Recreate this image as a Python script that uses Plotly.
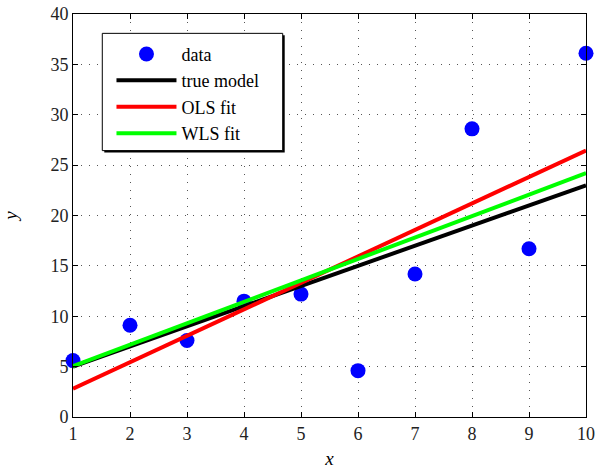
import plotly.graph_objects as go

x_data = [1, 2, 3, 4, 5, 6, 7, 8, 9, 10]
y_data = [5.6, 9.1, 7.6, 11.5, 12.2, 4.6, 14.2, 28.6, 16.7, 36.1]

x_line = [1, 10]
y_true = [5.0, 23.0]
y_ols = [2.8, 26.45]
y_wls = [5.05, 24.2]

x_ticks = [1, 2, 3, 4, 5, 6, 7, 8, 9, 10]
y_ticks = [0, 5, 10, 15, 20, 25, 30, 35, 40]

FONT = "Liberation Serif"

fig = go.Figure()
fig.add_trace(go.Scatter(x=x_data, y=y_data, mode="markers", name="data",
                         marker=dict(color="#0000ff", size=15, line=dict(width=0)),
                         cliponaxis=False))
fig.add_trace(go.Scatter(x=x_line, y=y_true, mode="lines", name="true model",
                         line=dict(color="#000000", width=4)))
fig.add_trace(go.Scatter(x=x_line, y=y_ols, mode="lines", name="OLS fit",
                         line=dict(color="#ff0000", width=4)))
fig.add_trace(go.Scatter(x=x_line, y=y_wls, mode="lines", name="WLS fit",
                         line=dict(color="#00ff00", width=4)))

axis_common = dict(
    showline=True, linecolor="black", linewidth=1, mirror="ticks",
    ticks="inside", ticklen=5, tickcolor="black", tickwidth=1,
    showgrid=True, gridcolor="#555", gridwidth=1, griddash="1px,7px",
    zeroline=False, automargin=False,
    tickfont=dict(family=FONT, size=18, color="#222"),
)

# legend frame (with drop shadow)
lx0, lx1, ly0, ly1 = 0.0571, 0.4088, 0.661, 0.952
dx, dy = 2 / 513, 2 / 403
shapes = [
    dict(type="rect", xref="paper", yref="paper", x0=lx0 + dx, x1=lx1 + dx,
         y0=ly0 - dy, y1=ly1 - dy, fillcolor="black", line=dict(width=0), layer="above"),
    dict(type="rect", xref="paper", yref="paper", x0=lx0, x1=lx1, y0=ly0, y1=ly1,
         fillcolor="white", line=dict(color="black", width=1), layer="above"),
]

fig.update_layout(
    width=597, height=469,
    margin=dict(l=73, r=11, t=14, b=52),
    plot_bgcolor="white", paper_bgcolor="white",
    font=dict(family=FONT, size=18, color="black"),
    xaxis=dict(range=[1, 10], tickvals=x_ticks, ticktext=[str(v) for v in x_ticks],
               title=dict(text="<i>x</i>", font=dict(family=FONT, size=19), standoff=13),
               **axis_common),
    yaxis=dict(range=[0, 40], tickvals=y_ticks, ticktext=[str(v) for v in y_ticks],
               title=dict(text="<i>y</i>", font=dict(family=FONT, size=19), standoff=30),
               **axis_common),
    shapes=shapes,
    legend=dict(x=0.075, y=0.946, xanchor="left", yanchor="top",
                bgcolor="rgba(0,0,0,0)", borderwidth=0, itemwidth=60,
                font=dict(family=FONT, size=18), tracegroupgap=0),
    showlegend=True,
)

fig.write_html("out.html", config={"displayModeBar": False},
               post_script="document.body.style.margin='0';document.body.style.padding='0';")
